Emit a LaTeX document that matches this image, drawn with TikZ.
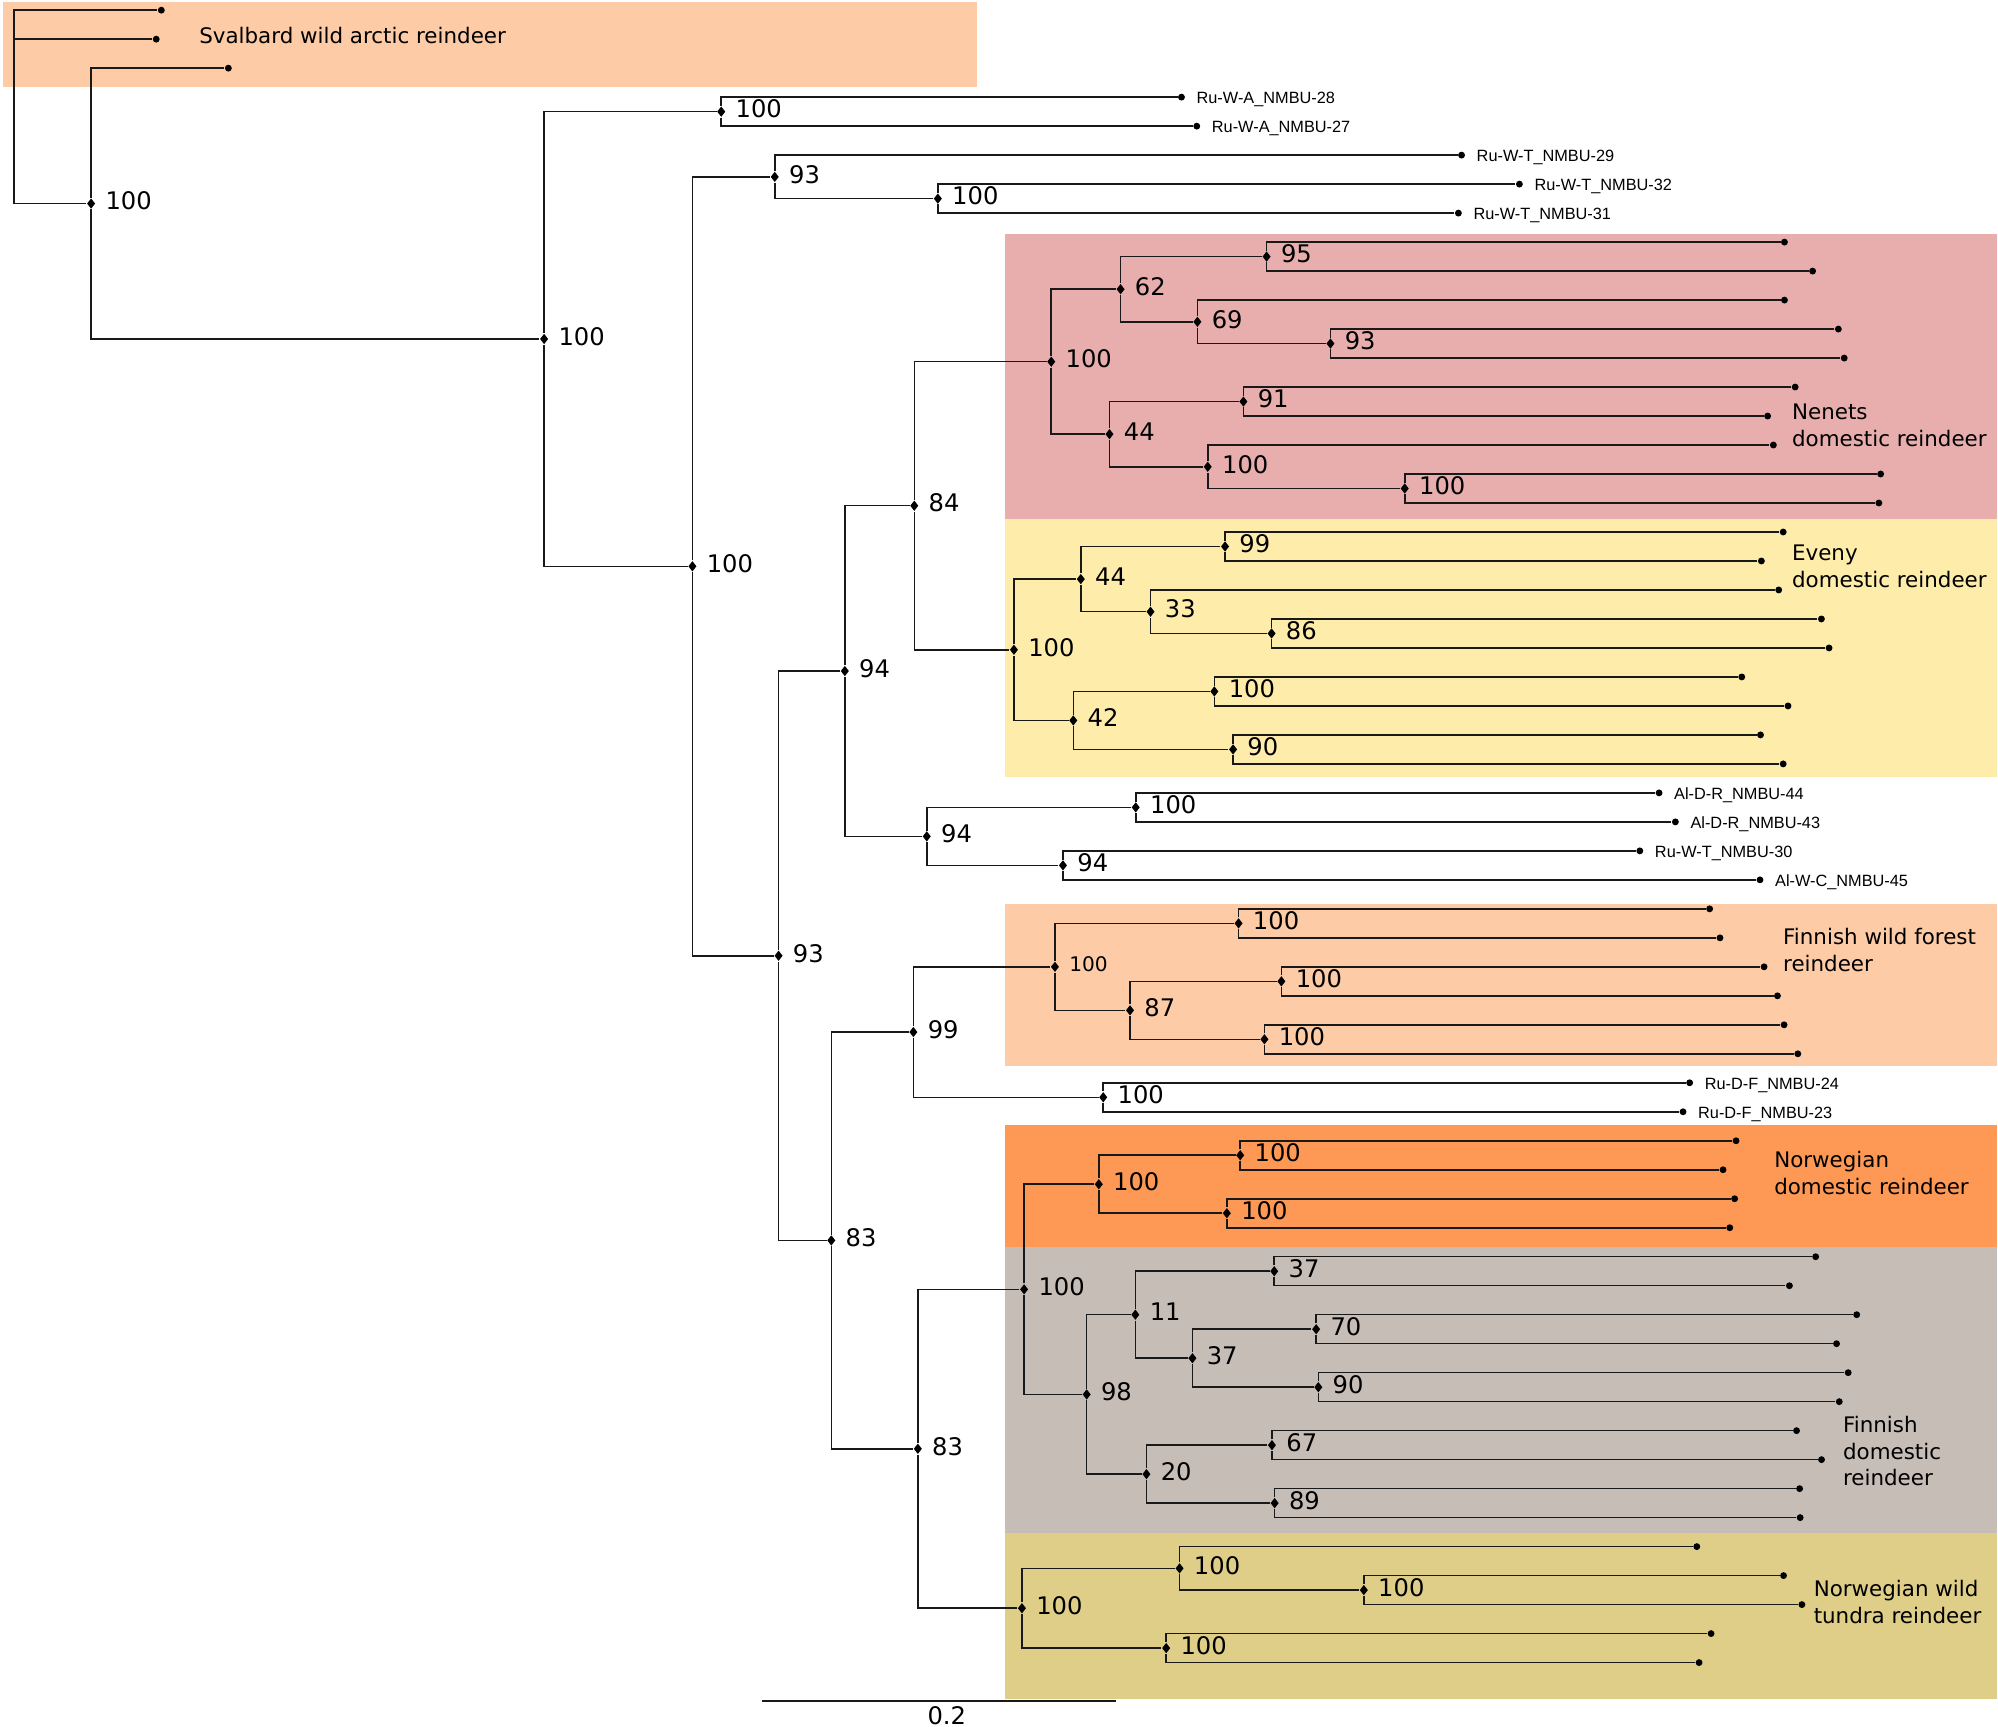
\documentclass[tikz,border=0pt]{standalone}
\usepackage{fontspec}
\usetikzlibrary{shapes.geometric}
\newfontfamily\bsfont{DejaVu Sans}
\newfontfamily\tipfont{Liberation Sans}
\definecolor{svalbardc}{RGB}{253,203,165}
\definecolor{nenetsc}{RGB}{232,174,174}
\definecolor{evenyc}{RGB}{254,236,170}
\definecolor{forestc}{RGB}{253,203,165}
\definecolor{norwdomc}{RGB}{254,153,85}
\definecolor{findomc}{RGB}{199,189,183}
\definecolor{tundrac}{RGB}{222,206,136}
\begin{document}
\begin{tikzpicture}[x=0.5pt,y=-11.375pt,
  br/.style={line width=0.6pt,black!90},
  tipdot/.style={shape=circle,fill=black,inner sep=0pt,minimum size=2.7pt},
  bnode/.style={shape=diamond,fill=black,inner sep=0pt,minimum width=3.3pt,minimum height=4.2pt},
  bs/.style={font=\bsfont\fontsize{9.5}{11}\selectfont,inner sep=0pt,xshift=3.6pt,yshift=1pt},
  bssmall/.style={bs,font=\bsfont\fontsize{7.9}{9}\selectfont},
  tiplab/.style={font=\tipfont\fontsize{6.4}{7}\selectfont,inner sep=0pt,xshift=4.2pt,yshift=-0.9pt},
  clade/.style={font=\bsfont\fontsize{8.4}{10.5}\selectfont,anchor=west,align=left,inner sep=0pt}]
 \useasboundingbox (0,-0.3516) rectangle (1568,59.209);
 \fill[svalbardc] (2.5,-0.2725) rectangle (766.8,2.659);
 \fill[nenetsc] (788.7,7.719) rectangle (1567,17.552);
 \fill[evenyc] (788.7,17.552) rectangle (1567,26.44);
 \fill[forestc] (788.7,30.835) rectangle (1567,36.422);
 \fill[norwdomc] (788.7,38.457) rectangle (1567,42.677);
 \fill[findomc] (788.7,42.677) rectangle (1567,52.545);
 \fill[tundrac] (788.7,52.545) rectangle (1567,58.259);
 \node (lab sval) at (156,0.86) [clade] {Svalbard wild arctic reindeer};
 \node (lab nen) at (1406,14.31) [clade] {Nenets\\domestic reindeer};
 \node (lab eve) at (1406,19.19) [clade] {Eveny\\domestic reindeer};
 \node (lab for) at (1399,32.42) [clade] {Finnish wild forest\\reindeer};
 \node (lab nordom) at (1392,40.11) [clade] {Norwegian\\domestic reindeer};
 \node (lab findom) at (1446,49.71) [clade] {Finnish\\domestic\\reindeer};
 \node (lab tun) at (1423,54.92) [clade] {Norwegian wild\\tundra reindeer};
 \node (tip 0) at (126.6,0) [tipdot] {};
 \node (tip 1) at (122.6,1) [tipdot] {};
 \node (tip 2) at (179.2,2) [tipdot] {};
 \node (tip 3) at (927.2,3) [tipdot,label={[tiplab]0:Ru-W-A\_NMBU-28}] {};
 \node (tip 4) at (939.2,4) [tipdot,label={[tiplab]0:Ru-W-A\_NMBU-27}] {};
 \node (tip 5) at (1147,5) [tipdot,label={[tiplab]0:Ru-W-T\_NMBU-29}] {};
 \node (tip 6) at (1192.4,6) [tipdot,label={[tiplab]0:Ru-W-T\_NMBU-32}] {};
 \node (tip 7) at (1144.5,7) [tipdot,label={[tiplab]0:Ru-W-T\_NMBU-31}] {};
 \node (tip 8) at (1400.4,8) [tipdot] {};
 \node (tip 9) at (1422.5,9) [tipdot] {};
 \node (tip 10) at (1400.4,10) [tipdot] {};
 \node (tip 11) at (1442.7,11) [tipdot] {};
 \node (tip 12) at (1447.3,12) [tipdot] {};
 \node (tip 13) at (1408.8,13) [tipdot] {};
 \node (tip 14) at (1387.2,14) [tipdot] {};
 \node (tip 15) at (1391.7,15) [tipdot] {};
 \node (tip 16) at (1475.9,16) [tipdot] {};
 \node (tip 17) at (1474.5,17) [tipdot] {};
 \node (tip 18) at (1399.4,18) [tipdot] {};
 \node (tip 19) at (1382.3,19) [tipdot] {};
 \node (tip 20) at (1395.9,20) [tipdot] {};
 \node (tip 21) at (1429.4,21) [tipdot] {};
 \node (tip 22) at (1435.4,22) [tipdot] {};
 \node (tip 23) at (1366.9,23) [tipdot] {};
 \node (tip 24) at (1403.2,24) [tipdot] {};
 \node (tip 25) at (1381.6,25) [tipdot] {};
 \node (tip 26) at (1399.4,26) [tipdot] {};
 \node (tip 27) at (1302,27) [tipdot,label={[tiplab]0:Al-D-R\_NMBU-44}] {};
 \node (tip 28) at (1314.8,28) [tipdot,label={[tiplab]0:Al-D-R\_NMBU-43}] {};
 \node (tip 29) at (1286.9,29) [tipdot,label={[tiplab]0:Ru-W-T\_NMBU-30}] {};
 \node (tip 30) at (1381.2,30) [tipdot,label={[tiplab]0:Al-W-C\_NMBU-45}] {};
 \node (tip 31) at (1341.7,31) [tipdot] {};
 \node (tip 32) at (1349.8,32) [tipdot] {};
 \node (tip 33) at (1384.4,33) [tipdot] {};
 \node (tip 34) at (1394.9,34) [tipdot] {};
 \node (tip 35) at (1400.1,35) [tipdot] {};
 \node (tip 36) at (1410.9,36) [tipdot] {};
 \node (tip 37) at (1326,37) [tipdot,label={[tiplab]0:Ru-D-F\_NMBU-24}] {};
 \node (tip 38) at (1320.8,38) [tipdot,label={[tiplab]0:Ru-D-F\_NMBU-23}] {};
 \node (tip 39) at (1362.4,39) [tipdot] {};
 \node (tip 40) at (1352.2,40) [tipdot] {};
 \node (tip 41) at (1361.3,41) [tipdot] {};
 \node (tip 42) at (1357.5,42) [tipdot] {};
 \node (tip 43) at (1424.9,43) [tipdot] {};
 \node (tip 44) at (1404.3,44) [tipdot] {};
 \node (tip 45) at (1457.1,45) [tipdot] {};
 \node (tip 46) at (1441.3,46) [tipdot] {};
 \node (tip 47) at (1450.4,47) [tipdot] {};
 \node (tip 48) at (1443.4,48) [tipdot] {};
 \node (tip 49) at (1409.9,49) [tipdot] {};
 \node (tip 50) at (1429.5,50) [tipdot] {};
 \node (tip 51) at (1412.3,51) [tipdot] {};
 \node (tip 52) at (1412.7,52) [tipdot] {};
 \node (tip 53) at (1331.6,53) [tipdot] {};
 \node (tip 54) at (1399.7,54) [tipdot] {};
 \node (tip 55) at (1414.1,55) [tipdot] {};
 \node (tip 56) at (1342.8,56) [tipdot] {};
 \node (tip 57) at (1333.4,57) [tipdot] {};
 \coordinate (root) at (11,6.6709);
 \node (nd A) at (71.5,6.6709) [bnode,label={[bs]0:100}] {};
 \node (nd B) at (427,11.3418) [bnode,label={[bs]0:100}] {};
 \node (nd C) at (566,3.5) [bnode,label={[bs]0:100}] {};
 \node (nd D) at (543.4,19.1836) [bnode,label={[bs]0:100}] {};
 \node (nd E) at (608,5.75) [bnode,label={[bs]0:93}] {};
 \node (nd G) at (736,6.5) [bnode,label={[bs]0:100}] {};
 \node (nd F) at (611,32.6172) [bnode,label={[bs]0:93}] {};
 \node (nd H) at (663,22.7969) [bnode,label={[bs]0:94}] {};
 \node (nd J) at (717.5,17.0938) [bnode,label={[bs]0:84}] {};
 \node (nd N1) at (825,12.125) [bnode,label={[bs]0:100}] {};
 \node (nd N2) at (879.4,9.625) [bnode,label={[bs]0:62}] {};
 \node (nd N4) at (994,8.5) [bnode,label={[bs]0:95}] {};
 \node (nd N5) at (939.7,10.75) [bnode,label={[bs]0:69}] {};
 \node (nd N6) at (1044.1,11.5) [bnode,label={[bs]0:93}] {};
 \node (nd N3) at (870.7,14.625) [bnode,label={[bs]0:44}] {};
 \node (nd N7) at (975.8,13.5) [bnode,label={[bs]0:91}] {};
 \node (nd N8) at (947.8,15.75) [bnode,label={[bs]0:100}] {};
 \node (nd N9) at (1102.4,16.5) [bnode,label={[bs]0:100}] {};
 \node (nd V1) at (795.7,22.0625) [bnode,label={[bs]0:100}] {};
 \node (nd V2) at (848.2,19.625) [bnode,label={[bs]0:44}] {};
 \node (nd V3) at (961.4,18.5) [bnode,label={[bs]0:99}] {};
 \node (nd V4) at (902.9,20.75) [bnode,label={[bs]0:33}] {};
 \node (nd V5) at (997.9,21.5) [bnode,label={[bs]0:86}] {};
 \node (nd V6) at (842.3,24.5) [bnode,label={[bs]0:42}] {};
 \node (nd V7) at (953,23.5) [bnode,label={[bs]0:100}] {};
 \node (nd V8) at (967.7,25.5) [bnode,label={[bs]0:90}] {};
 \node (nd K) at (727.3,28.5) [bnode,label={[bs]0:94}] {};
 \node (nd K1) at (891.3,27.5) [bnode,label={[bs]0:100}] {};
 \node (nd K2) at (834.2,29.5) [bnode,label={[bs]0:94}] {};
 \node (nd I) at (652.4,42.4375) [bnode,label={[bs]0:83}] {};
 \node (nd L) at (716.8,35.25) [bnode,label={[bs]0:99}] {};
 \node (nd W1) at (827.9,33) [bnode,label={[bssmall]0:100}] {};
 \node (nd W2) at (972,31.5) [bnode,label={[bs]0:100}] {};
 \node (nd W3) at (886.8,34.5) [bnode,label={[bs]0:87}] {};
 \node (nd W4) at (1005.6,33.5) [bnode,label={[bs]0:100}] {};
 \node (nd W5) at (992.3,35.5) [bnode,label={[bs]0:100}] {};
 \node (nd R) at (865.8,37.5) [bnode,label={[bs]0:100}] {};
 \node (nd M) at (720.3,49.625) [bnode,label={[bs]0:83}] {};
 \node (nd D1) at (803.7,44.125) [bnode,label={[bs]0:100}] {};
 \node (nd D2) at (862.3,40.5) [bnode,label={[bs]0:100}] {};
 \node (nd D3) at (973.3,39.5) [bnode,label={[bs]0:100}] {};
 \node (nd D4) at (962.8,41.5) [bnode,label={[bs]0:100}] {};
 \node (nd D5) at (852.8,47.75) [bnode,label={[bs]0:98}] {};
 \node (nd D6) at (891,45) [bnode,label={[bs]0:11}] {};
 \node (nd D7) at (1000,43.5) [bnode,label={[bs]0:37}] {};
 \node (nd D8) at (935.8,46.5) [bnode,label={[bs]0:37}] {};
 \node (nd D9) at (1032.9,45.5) [bnode,label={[bs]0:70}] {};
 \node (nd D10) at (1034.6,47.5) [bnode,label={[bs]0:90}] {};
 \node (nd D11) at (899.7,50.5) [bnode,label={[bs]0:20}] {};
 \node (nd D12) at (998.2,49.5) [bnode,label={[bs]0:67}] {};
 \node (nd D13) at (1000.3,51.5) [bnode,label={[bs]0:89}] {};
 \node (nd T1) at (802,55.125) [bnode,label={[bs]0:100}] {};
 \node (nd T2) at (925.7,53.75) [bnode,label={[bs]0:100}] {};
 \node (nd T3) at (1070.3,54.5) [bnode,label={[bs]0:100}] {};
 \node (nd T4) at (915.2,56.5) [bnode,label={[bs]0:100}] {};
 \draw[br] (root) |- (tip 0);
 \draw[br] (root) |- (tip 1);
 \draw[br] (root) -- (nd A);
 \draw[br] (nd A) |- (tip 2);
 \draw[br] (nd A) |- (nd B);
 \draw[br] (nd B) |- (nd C);
 \draw[br] (nd B) |- (nd D);
 \draw[br] (nd C) |- (tip 3);
 \draw[br] (nd C) |- (tip 4);
 \draw[br] (nd D) |- (nd E);
 \draw[br] (nd D) |- (nd F);
 \draw[br] (nd E) |- (tip 5);
 \draw[br] (nd E) |- (nd G);
 \draw[br] (nd G) |- (tip 6);
 \draw[br] (nd G) |- (tip 7);
 \draw[br] (nd F) |- (nd H);
 \draw[br] (nd F) |- (nd I);
 \draw[br] (nd H) |- (nd J);
 \draw[br] (nd H) |- (nd K);
 \draw[br] (nd J) |- (nd N1);
 \draw[br] (nd J) |- (nd V1);
 \draw[br] (nd N1) |- (nd N2);
 \draw[br] (nd N1) |- (nd N3);
 \draw[br] (nd N2) |- (nd N4);
 \draw[br] (nd N2) |- (nd N5);
 \draw[br] (nd N4) |- (tip 8);
 \draw[br] (nd N4) |- (tip 9);
 \draw[br] (nd N5) |- (tip 10);
 \draw[br] (nd N5) |- (nd N6);
 \draw[br] (nd N6) |- (tip 11);
 \draw[br] (nd N6) |- (tip 12);
 \draw[br] (nd N3) |- (nd N7);
 \draw[br] (nd N3) |- (nd N8);
 \draw[br] (nd N7) |- (tip 13);
 \draw[br] (nd N7) |- (tip 14);
 \draw[br] (nd N8) |- (tip 15);
 \draw[br] (nd N8) |- (nd N9);
 \draw[br] (nd N9) |- (tip 16);
 \draw[br] (nd N9) |- (tip 17);
 \draw[br] (nd V1) |- (nd V2);
 \draw[br] (nd V1) |- (nd V6);
 \draw[br] (nd V2) |- (nd V3);
 \draw[br] (nd V2) |- (nd V4);
 \draw[br] (nd V3) |- (tip 18);
 \draw[br] (nd V3) |- (tip 19);
 \draw[br] (nd V4) |- (tip 20);
 \draw[br] (nd V4) |- (nd V5);
 \draw[br] (nd V5) |- (tip 21);
 \draw[br] (nd V5) |- (tip 22);
 \draw[br] (nd V6) |- (nd V7);
 \draw[br] (nd V6) |- (nd V8);
 \draw[br] (nd V7) |- (tip 23);
 \draw[br] (nd V7) |- (tip 24);
 \draw[br] (nd V8) |- (tip 25);
 \draw[br] (nd V8) |- (tip 26);
 \draw[br] (nd K) |- (nd K1);
 \draw[br] (nd K) |- (nd K2);
 \draw[br] (nd K1) |- (tip 27);
 \draw[br] (nd K1) |- (tip 28);
 \draw[br] (nd K2) |- (tip 29);
 \draw[br] (nd K2) |- (tip 30);
 \draw[br] (nd I) |- (nd L);
 \draw[br] (nd I) |- (nd M);
 \draw[br] (nd L) |- (nd W1);
 \draw[br] (nd L) |- (nd R);
 \draw[br] (nd W1) |- (nd W2);
 \draw[br] (nd W1) |- (nd W3);
 \draw[br] (nd W2) |- (tip 31);
 \draw[br] (nd W2) |- (tip 32);
 \draw[br] (nd W3) |- (nd W4);
 \draw[br] (nd W3) |- (nd W5);
 \draw[br] (nd W4) |- (tip 33);
 \draw[br] (nd W4) |- (tip 34);
 \draw[br] (nd W5) |- (tip 35);
 \draw[br] (nd W5) |- (tip 36);
 \draw[br] (nd R) |- (tip 37);
 \draw[br] (nd R) |- (tip 38);
 \draw[br] (nd M) |- (nd D1);
 \draw[br] (nd M) |- (nd T1);
 \draw[br] (nd D1) |- (nd D2);
 \draw[br] (nd D1) |- (nd D5);
 \draw[br] (nd D2) |- (nd D3);
 \draw[br] (nd D2) |- (nd D4);
 \draw[br] (nd D3) |- (tip 39);
 \draw[br] (nd D3) |- (tip 40);
 \draw[br] (nd D4) |- (tip 41);
 \draw[br] (nd D4) |- (tip 42);
 \draw[br] (nd D5) |- (nd D6);
 \draw[br] (nd D5) |- (nd D11);
 \draw[br] (nd D6) |- (nd D7);
 \draw[br] (nd D6) |- (nd D8);
 \draw[br] (nd D7) |- (tip 43);
 \draw[br] (nd D7) |- (tip 44);
 \draw[br] (nd D8) |- (nd D9);
 \draw[br] (nd D8) |- (nd D10);
 \draw[br] (nd D9) |- (tip 45);
 \draw[br] (nd D9) |- (tip 46);
 \draw[br] (nd D10) |- (tip 47);
 \draw[br] (nd D10) |- (tip 48);
 \draw[br] (nd D11) |- (nd D12);
 \draw[br] (nd D11) |- (nd D13);
 \draw[br] (nd D12) |- (tip 49);
 \draw[br] (nd D12) |- (tip 50);
 \draw[br] (nd D13) |- (tip 51);
 \draw[br] (nd D13) |- (tip 52);
 \draw[br] (nd T1) |- (nd T2);
 \draw[br] (nd T1) |- (nd T4);
 \draw[br] (nd T2) |- (tip 53);
 \draw[br] (nd T2) |- (nd T3);
 \draw[br] (nd T3) |- (tip 54);
 \draw[br] (nd T3) |- (tip 55);
 \draw[br] (nd T4) |- (tip 56);
 \draw[br] (nd T4) |- (tip 57);
 \coordinate (bar l) at (597.7,58.33);
 \coordinate (bar r) at (875.6,58.33);
 \draw[br] (bar l) -- (bar r);
 \node (bar lab) at (743,58.835) [font=\bsfont\fontsize{9.5}{11}\selectfont,inner sep=0pt] {0.2};
\end{tikzpicture}
\end{document}
